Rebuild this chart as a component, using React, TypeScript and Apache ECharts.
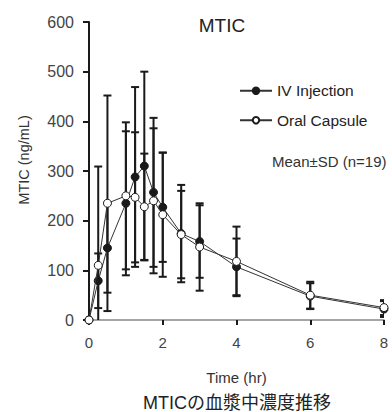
import React, { useEffect, useRef } from "react";
import * as echarts from "echarts";

const times = [0, 0.25, 0.5, 1, 1.25, 1.5, 1.75, 2, 2.5, 3, 4, 6, 8];
const ivMean = [0, 79, 145, 235, 288, 310, 257, 227, 174, 158, 107, 48, 22];
const ivSD = [0, 55, 90, 145, 181, 190, 150, 110, 98, 73, 57, 26, 16];
const oralMean = [0, 110, 235, 250, 247, 228, 240, 212, 172, 147, 118, 50, 25];
const oralSD = [0, 199, 217, 148, 131, 107, 146, 125, 88, 88, 70, 27, 15];
const yTicks = [0, 100, 200, 300, 400, 500, 600];
const xTicks = [0, 2, 4, 6, 8];

const FONT = "'Liberation Sans', Arial, 'Noto Sans CJK JP', sans-serif";
const INK = "#1a1a1a";

function errData(mean: number[], sd: number[]) {
  return times.map((t, i) => [t, mean[i] - sd[i], mean[i] + sd[i], sd[i]]);
}

function errRender(params: any, api: any) {
  const sd = api.value(3);
  if (!sd) return null;
  const t = api.value(0);
  const lo = api.value(1);
  const hi = api.value(2);
  const pLo = api.coord([t, Math.max(0, lo)]);
  const pHi = api.coord([t, hi]);
  const w = 4;
  const style = { stroke: INK, lineWidth: 2 };
  const children: any[] = [
    { type: "line", shape: { x1: pHi[0], y1: pHi[1], x2: pLo[0], y2: pLo[1] }, style },
    { type: "line", shape: { x1: pHi[0] - w, y1: pHi[1], x2: pHi[0] + w, y2: pHi[1] }, style },
  ];
  if (lo >= 0) {
    children.push({ type: "line", shape: { x1: pLo[0] - w, y1: pLo[1], x2: pLo[0] + w, y2: pLo[1] }, style });
  }
  return { type: "group", children };
}

export default function App() {
  const ref = useRef<HTMLDivElement>(null);
  useEffect(() => {
    if (!ref.current) return;
    const chart = echarts.init(ref.current, undefined, { renderer: "svg" });
    chart.setOption({
      animation: false,
      textStyle: { fontFamily: FONT },
      grid: { left: 89, right: 8, top: 22, bottom: 92, containLabel: false },
      xAxis: {
        type: "value",
        min: 0,
        max: 8,
        interval: 2,
        name: "Time (hr)",
        nameLocation: "middle",
        nameGap: 50,
        nameTextStyle: { fontSize: 15, color: "#333", fontFamily: FONT },
        axisLine: { show: true, lineStyle: { color: "#888", width: 1.5 } },
        axisTick: { show: true, inside: false, length: 5, lineStyle: { color: INK, width: 2 } },
        axisLabel: { fontSize: 15, color: "#444", margin: 15, formatter: (v: number) => (xTicks.includes(v) ? String(v) : "") },
        splitLine: { show: false },
      },
      yAxis: {
        type: "value",
        min: 0,
        max: 600,
        interval: 100,
        axisLine: { show: true, onZero: false, lineStyle: { color: INK, width: 2 } },
        axisTick: { show: true, inside: false, length: 6, lineStyle: { color: INK, width: 2 } },
        axisLabel: { fontSize: 16, color: "#444", margin: 15, formatter: (v: number) => (yTicks.includes(v) ? String(v) : "") },
        splitLine: { show: false },
      },
      legend: {
        orient: "vertical",
        left: 234,
        top: 78,
        itemWidth: 32,
        itemHeight: 8,
        itemGap: 14,
        data: ["IV Injection", "Oral Capsule"],
        textStyle: { fontSize: 15.5, color: "#222", fontFamily: FONT },
      },
      graphic: [
        { type: "text", x: 222, y: 25, style: { text: "MTIC", fontSize: 19, fill: "#222", fontFamily: FONT, textAlign: "center", textVerticalAlign: "middle" } },
        { type: "text", x: 272, y: 161, style: { text: "Mean±SD (n=19)", fontSize: 15, fill: "#333", fontFamily: FONT, textAlign: "left", textVerticalAlign: "middle" } },
        { type: "text", x: 24, y: 160, rotation: Math.PI / 2, style: { text: "MTIC (ng/mL)", fontSize: 14.5, fill: "#333", fontFamily: FONT, textAlign: "center", textVerticalAlign: "middle" } },
        { type: "text", x: 237, y: 403, style: { text: "MTICの血漿中濃度推移", fontSize: 18, fill: "#222", fontFamily: FONT, textAlign: "center", textVerticalAlign: "middle" } },
      ],
      series: [
        { name: "ivErr", type: "custom", renderItem: errRender, data: errData(ivMean, ivSD), z: 1, clip: true, silent: true },
        { name: "oralErr", type: "custom", renderItem: errRender, data: errData(oralMean, oralSD), z: 1, clip: true, silent: true },
        {
          name: "IV Injection",
          type: "line",
          data: times.map((t, i) => [t, ivMean[i]]),
          symbol: "circle",
          symbolSize: 8,
          lineStyle: { color: "#333", width: 1 },
          itemStyle: { color: INK, borderColor: INK, borderWidth: 1 },
          z: 3,
        },
        {
          name: "Oral Capsule",
          type: "line",
          data: times.map((t, i) => [t, oralMean[i]]),
          symbol: "circle",
          symbolSize: 8,
          lineStyle: { color: "#333", width: 1 },
          itemStyle: { color: "#fff", borderColor: INK, borderWidth: 1 },
          z: 4,
        },
      ],
    });
    return () => chart.dispose();
  }, []);
  return <div ref={ref} style={{ position: "absolute", left: 0, top: 0, width: 392, height: 412 }} />;
}
